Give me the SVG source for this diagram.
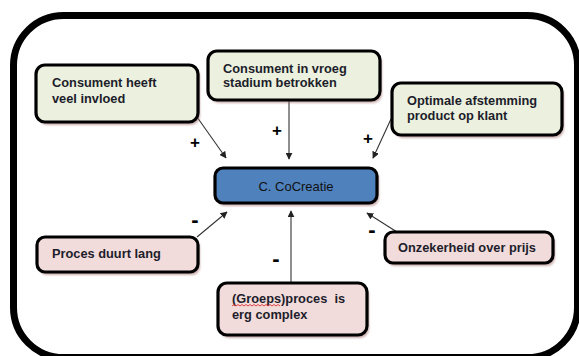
<svg xmlns="http://www.w3.org/2000/svg" width="579" height="356" viewBox="0 0 579 356">
  <defs>
    <filter id="soft" x="-10%" y="-20%" width="120%" height="140%">
      <feGaussianBlur stdDeviation="1.2"/>
    </filter>
    <marker id="arrow" viewBox="0 0 10 10" refX="9" refY="5" markerWidth="7" markerHeight="7" markerUnits="userSpaceOnUse" orient="auto">
      <path d="M0,0 L10,5 L0,10 z" fill="#222"/>
    </marker>
  </defs>
  <style>
    .frame { fill: #fff; stroke: #000; stroke-width: 7; }
    .shadow { fill: #a06868; opacity: 0.55; filter: url(#soft); }
    .box { stroke: #000; stroke-width: 3.2; }
    .pos { fill: #EBF1DE; }
    .neg { fill: #F2DCDB; }
    .core { fill: #4F81BD; }
    .label { font-family: "Liberation Sans", Arial, sans-serif; font-size: 12.8px; font-weight: bold; fill: #1d1d2b; white-space: pre; }
    .title { font-family: "Liberation Sans", Arial, sans-serif; font-size: 13px; fill: #111; text-anchor: middle; }
    .sign { font-family: "Liberation Sans", Arial, sans-serif; font-weight: bold; fill: #000; text-anchor: middle; }
    .link { stroke: #333; stroke-width: 1.1; fill: none; marker-end: url(#arrow); }
    .squiggle { stroke: #e03030; stroke-width: 0.9; fill: none; }
  </style>

  <!-- outer rounded frame; its lower edge runs along the bottom border -->
  <rect class="frame" x="13.5" y="15.5" width="564" height="342" rx="50" ry="50"/>

  <!-- connectors -->
  <g id="connectors">
    <line class="link" x1="197" y1="117" x2="226" y2="158"/>
    <line class="link" x1="289" y1="100" x2="289" y2="159"/>
    <line class="link" x1="391" y1="119" x2="373" y2="158"/>
    <line class="link" x1="197" y1="237" x2="227" y2="212"/>
    <line class="link" x1="291" y1="283" x2="291" y2="211"/>
    <line class="link" x1="397" y1="232" x2="367" y2="213"/>
    <text class="sign" x="195" y="148" font-size="17">+</text>
    <text class="sign" x="277" y="136" font-size="17">+</text>
    <text class="sign" x="368" y="144" font-size="17">+</text>
    <text class="sign" x="195" y="227" font-size="22">-</text>
    <text class="sign" x="276" y="266" font-size="22">-</text>
    <text class="sign" x="372" y="237" font-size="22">-</text>
  </g>

  <g id="node-invloed">
    <rect class="shadow" x="38" y="68" width="162" height="57" rx="9"/>
    <rect class="box pos" x="36" y="65" width="162" height="57" rx="9"/>
    <text class="label" x="52" y="87">Consument heeft</text>
    <text class="label" x="52" y="103">veel invloed</text>
  </g>

  <g id="node-vroeg">
    <rect class="shadow" x="210" y="54" width="172" height="49" rx="9"/>
    <rect class="box pos" x="208" y="51" width="172" height="49" rx="9"/>
    <text class="label" x="223" y="73">Consument in vroeg</text>
    <text class="label" x="223" y="87">stadium betrokken</text>
  </g>

  <g id="node-afstemming">
    <rect class="shadow" x="394" y="86" width="170" height="52" rx="9"/>
    <rect class="box pos" x="392" y="83" width="170" height="52" rx="9"/>
    <text class="label" x="407" y="105">Optimale afstemming</text>
    <text class="label" x="407" y="120">product op klant</text>
  </g>

  <g id="node-cocreatie">
    <rect class="shadow" x="217" y="171" width="162" height="35" rx="8"/>
    <rect class="box core" x="215" y="168" width="162" height="35" rx="8"/>
    <text class="title" x="296" y="191">C. CoCreatie</text>
  </g>

  <g id="node-duur">
    <rect class="shadow" x="39" y="240" width="161" height="35" rx="8"/>
    <rect class="box neg" x="37" y="237" width="161" height="35" rx="8"/>
    <text class="label" x="52" y="258">Proces duurt lang</text>
  </g>

  <g id="node-prijs">
    <rect class="shadow" x="387" y="235" width="168" height="31" rx="8"/>
    <rect class="box neg" x="385" y="232" width="168" height="31" rx="8"/>
    <text class="label" x="398" y="252">Onzekerheid over prijs</text>
  </g>

  <g id="node-complex">
    <rect class="shadow" x="220" y="286" width="149" height="52" rx="9"/>
    <rect class="box neg" x="218" y="283" width="149" height="52" rx="9"/>
    <text class="label" x="232" y="303">(Groeps)proces  is</text>
    <text class="label" x="232" y="319">erg complex</text>
    <path class="squiggle" d="M232,306 l2,-1.5 l2,1.5 l2,-1.5 l2,1.5 l2,-1.5 l2,1.5 l2,-1.5 l2,1.5 l2,-1.5 l2,1.5 l2,-1.5 l2,1.5 l2,-1.5 l2,1.5 l2,-1.5 l2,1.5 l2,-1.5 l2,1.5 l2,-1.5 l2,1.5 l2,-1.5 l2,1.5 l2,-1.5 l2,1.5"/>
  </g>
</svg>
